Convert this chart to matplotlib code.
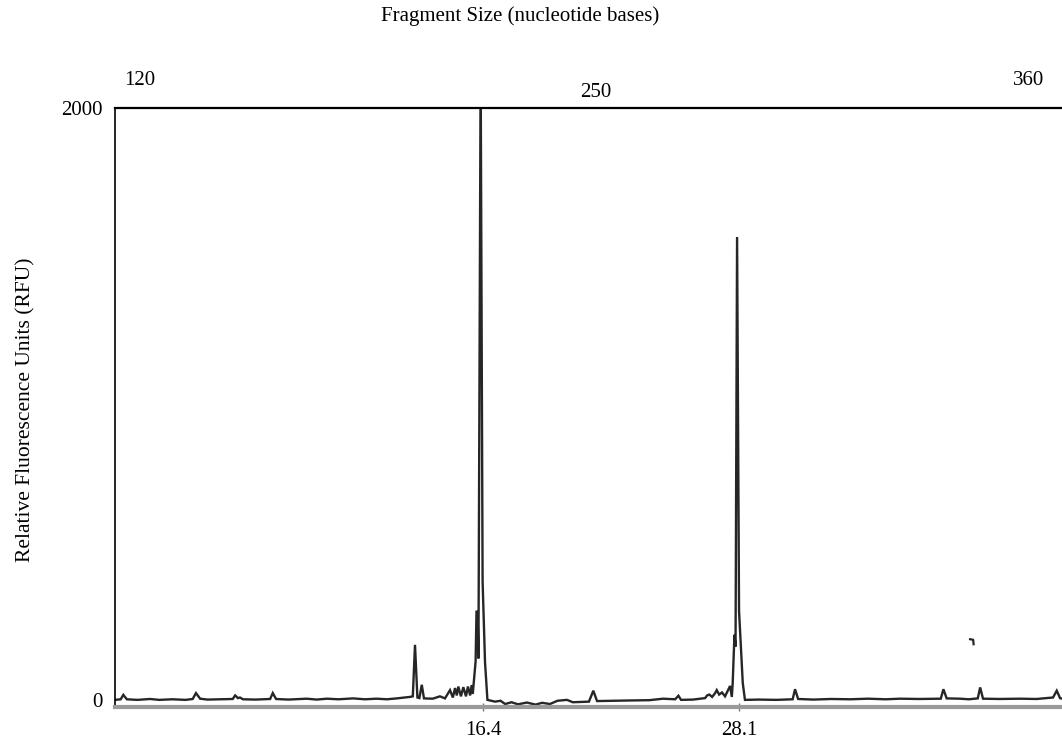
import matplotlib
matplotlib.use('Agg')
from matplotlib import pyplot as plt

plt.rcParams['font.family'] = ['Liberation Serif', 'DejaVu Serif']

# electropherogram trace: migration time (min) vs relative fluorescence
trace_time = [-0.42, -0.16, -0.04, 0.12, 0.6, 1.18, 1.6, 2.2, 2.8, 3.13, 3.28, 3.47, 3.8, 4.4,
              4.96, 5.07, 5.2, 5.29, 5.43, 6.0, 6.67, 6.79, 6.94, 7.5, 8.34, 8.8, 9.26, 9.8,
              10.46, 11.0, 11.54, 12.0, 12.46, 13.06, 13.19, 13.29, 13.40, 13.49, 13.60, 13.70,
              14.1, 14.43, 14.66, 14.89, 15.02, 15.12, 15.2, 15.27, 15.39, 15.50, 15.62, 15.71,
              15.81, 15.88, 15.93, 16.06, 16.10, 16.15, 16.19, 16.29, 16.38, 16.49, 16.60,
              16.95, 17.2, 17.41, 17.7, 18.0, 18.4, 18.8, 19.1, 19.46, 19.8, 20.24, 20.5, 21.24,
              21.44, 21.61, 22.3, 23.12, 24.0, 24.63, 25.18, 25.33, 25.45, 26.0, 26.55, 26.64,
              26.74, 26.87, 27.0, 27.08, 27.19, 27.32, 27.46, 27.69, 27.77, 27.81, 27.89, 27.94,
              28.01, 28.10, 28.27, 28.37, 29.0, 29.8, 30.55, 30.66, 30.80, 31.5, 32.3, 33.17,
              34.0, 34.8, 35.46, 36.3, 37.32, 37.44, 37.59, 38.20, 38.6, 39.01, 39.12, 39.25,
              40.0, 40.94, 41.7, 42.45, 42.62, 42.77, 42.86]
trace_rfu = [0, 2, 17, 2, 0, 3, 0, 2, 0, 3, 23, 4, 1, 2,
             3, 15, 6, 8, 2, 1, 3, 23, 3, 1, 4, 1, 4, 2,
             5, 2, 4, 2, 5, 10, 12, 186, 8, 6, 51, 5,
             4, 12, 5, 33, 8, 40, 15, 45, 12, 43, 12, 45,
             15, 50, 20, 130, 298, 298, 140, 2150, 400, 128, 0,
             -6, -3, -14, -8, -15, -9, -16, -10, -14, -3, 0, -8, -6,
             31, -4, -3, -2, -1, 4, 2, 14, 0, 1, 6, 15,
             18, 10, 22, 33, 18, 25, 12, 47, 10, 57, 220, 180,
             1564, 300, 57, 0, 1, 0, 2, 36, 3, 1, 3, 2,
             4, 2, 4, 3, 4, 36, 5, 4, 2, 5, 42, 4,
             3, 4, 3, 8, 31, 6, 4]

# small stray mark near 38.7 min
mark_time = [38.66, 38.80, 38.82]
mark_rfu = [205, 203, 188]

time_ticks = [16.4, 28.1]
time_labels = ['16.4', '28.1']
rfu_ticks = [0, 2000]
rfu_labels = ['0', '2000']

size_labels = ['120', '250', '360']
size_time = [0.72, 21.56, 41.31]
size_height = [1.030, 1.010, 1.030]

fig = plt.figure(figsize=(10.62, 7.42), dpi=100)
ax = fig.add_axes([0.1083, 0.0472, 0.8917, 0.8073])

ax.plot(trace_time, trace_rfu, color='#262626', lw=1.7, solid_joinstyle='miter')
ax.plot(mark_time, mark_rfu, color='#262626', lw=1.6)

ax.set_xlim(-0.42, 42.86)
ax.set_ylim(-24, 2000)

ax.set_xticks(time_ticks)
ax.set_xticklabels(time_labels, fontsize=15)
ax.set_yticks(rfu_ticks)
ax.set_yticklabels(rfu_labels, fontsize=15)
ax.tick_params(axis='x', direction='inout', length=6, width=1, color='#777777', pad=7)
ax.tick_params(axis='y', length=0, pad=9)

ax.spines['right'].set_visible(False)
ax.spines['top'].set_linewidth(1.6)
ax.spines['left'].set_linewidth(1.2)
ax.spines['bottom'].set_color('#9a9a9a')
ax.spines['bottom'].set_linewidth(3)

for lab, t, h in zip(size_labels, size_time, size_height):
    ax.text(t, h, lab, transform=ax.get_xaxis_transform(), ha='center', va='bottom', fontsize=15)

fig.text(520 / 1062, 1 - 16 / 742, 'Fragment Size (nucleotide bases)', ha='center', va='center', fontsize=15)
fig.text(26 / 1062, 1 - 410 / 742, 'Relative Fluorescence Units (RFU)', ha='center', va='center',
         rotation=90, fontsize=15.5)

fig.savefig('out.png', dpi=100)
